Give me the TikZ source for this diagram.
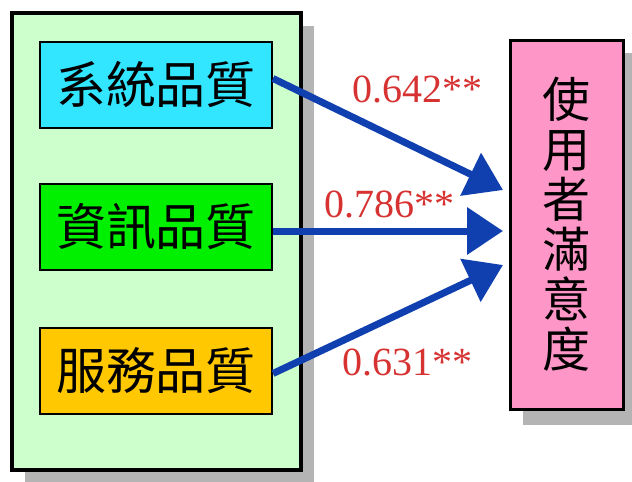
\documentclass[tikz,border=0pt]{standalone}
\usepackage{fontspec}
\setmainfont{Liberation Serif}
\newfontfamily\cjk{Noto Sans CJK TC}
\usetikzlibrary{arrows.meta}
\definecolor{outerfill}{RGB}{204,255,204}
\definecolor{cyanfill}{RGB}{51,230,255}
\definecolor{greenfill}{RGB}{0,240,0}
\definecolor{orangefill}{RGB}{255,200,0}
\definecolor{pinkfill}{RGB}{255,150,200}
\definecolor{arrowblue}{RGB}{16,64,176}
\definecolor{labelred}{RGB}{215,50,50}
\definecolor{shadowgray}{RGB}{180,180,180}
\tikzset{
  qualbox/.style={draw=black, line width=2pt, minimum width=232pt, minimum height=86pt, inner sep=0pt, font=\cjk\fontsize{50}{50}\selectfont},
  patharrow/.style={draw=arrowblue, line width=7pt, -{Triangle[length=36pt,width=46pt]}},
  coef/.style={text=labelred, font=\fontsize{40}{40}\selectfont, inner sep=0pt}
}
\begin{document}
\begin{tikzpicture}[x=1pt,y=-1pt]
\useasboundingbox (0,0) rectangle (632,482);
% shadows
\fill[shadowgray] (25,26) rectangle (314,482);
\fill[shadowgray] (523,53) rectangle (632,425);
% outer container
\node[draw=black, line width=4pt, fill=outerfill, minimum width=289pt, minimum height=457pt, inner sep=0pt] (outer) at (156.5,241.5) {};
% quality boxes
\node[qualbox, fill=cyanfill] (sys) at (156,84.5) {系統品質};
\node[qualbox, fill=greenfill] (info) at (156,227) {資訊品質};
\node[qualbox, fill=orangefill] (serv) at (156,370.5) {服務品質};
% satisfaction box
\node[draw=black, line width=3pt, fill=pinkfill, minimum width=113pt, minimum height=369pt, inner sep=0pt, align=center, font=\cjk\fontsize{48}{50}\selectfont] (sat) at (566.5,224.5) {使\\用\\者\\滿\\意\\度};
% arrow tips
\coordinate (t1) at (503,190);
\coordinate (t2) at (503,231);
\coordinate (t3) at (503,265);
\draw[patharrow] ([yshift=6pt]sys.east) -- (t1);
\draw[patharrow] ([yshift=-4pt]info.east) -- (t2);
\draw[patharrow] ([yshift=-3pt]serv.east) -- (t3);
% coefficients
\node[coef] (c1) at (417,89) {0.642**};
\node[coef] (c2) at (389,204) {0.786**};
\node[coef] (c3) at (407,362) {0.631**};
\end{tikzpicture}
\end{document}
